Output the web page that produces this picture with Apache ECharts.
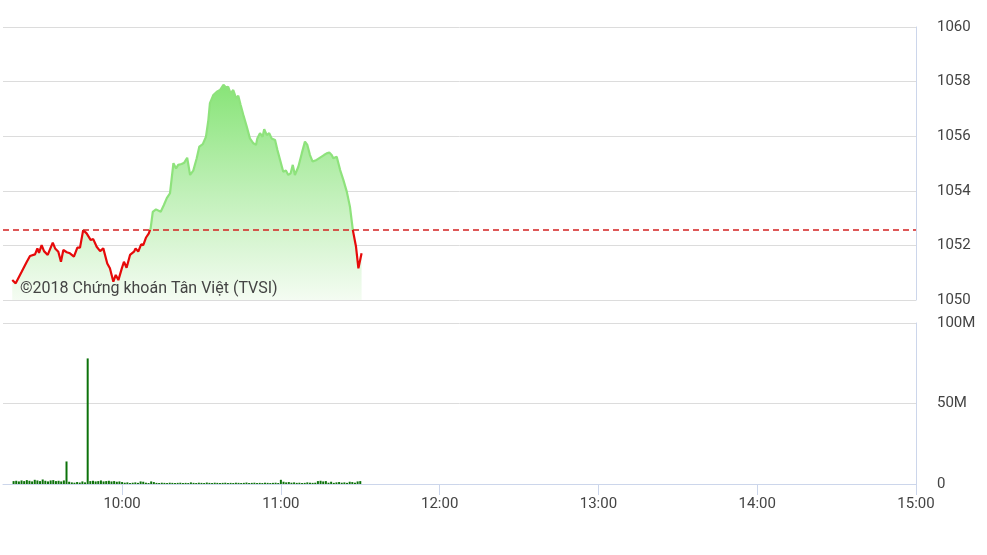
<!DOCTYPE html>
<html>
<head>
<meta charset="utf-8">
<script src="https://cdn.jsdelivr.net/npm/echarts@6/dist/echarts.min.js"></script>
<style>
html,body{margin:0;padding:0;background:#fff;}
#chart{width:987px;height:555px;}
</style>
</head>
<body>
<div id="chart"></div>
<script>
// Reference (previous close) level
const refPrice = 1052.56;

// Price: time in minutes of day (decimal), value
const priceTimes = [558.5,559.8,562.1,564.0,565.2,567.1,568.0,568.6,569.6,570.5,571.9,573.8,574.7,575.9,576.9,577.8,579.1,580.3,581.8,583.1,584.1,585.3,586.6,588.1,589.1,590.4,591.7,592.9,594.4,595.4,596.7,597.6,598.6,599.9,600.7,601.7,603.0,604.5,605.1,606.1,607.2,608.0,609.0,610.1,610.8,611.6,612.8,614.6,615.8,616.9,618.1,619.4,620.4,621.2,622.5,623.5,624.6,625.7,626.9,628.2,629.2,630.5,631.7,632.6,633.2,634.5,635.8,637.0,638.3,639.3,640.1,641.0,642.0,643.1,643.9,644.8,645.8,647.1,648.3,649.6,650.6,651.1,652.1,653.1,653.7,654.7,655.6,656.5,657.8,658.7,659.4,660.9,661.9,662.8,663.7,664.5,665.3,666.6,667.9,669.1,670.0,671.0,672.0,673.5,675.4,676.3,677.3,678.3,679.2,679.8,681.1,682.4,683.6,684.9,686.1,687.2,688.4,689.3,690.5];
const priceValues = [1050.73,1050.61,1051.04,1051.40,1051.61,1051.67,1051.89,1051.73,1052.01,1051.79,1051.65,1052.10,1051.89,1051.77,1051.40,1051.83,1051.75,1051.71,1051.59,1051.92,1051.92,1052.56,1052.44,1052.20,1052.23,1051.95,1051.79,1051.89,1051.34,1051.16,1050.67,1050.92,1050.73,1051.16,1051.40,1051.18,1051.65,1051.77,1051.89,1051.77,1052.04,1052.01,1052.28,1052.44,1052.63,1053.23,1053.32,1053.23,1053.48,1053.73,1053.91,1055.01,1054.82,1054.95,1054.98,1055.03,1055.21,1054.58,1054.74,1055.19,1055.62,1055.71,1055.98,1056.59,1057.21,1057.51,1057.63,1057.69,1057.88,1057.78,1057.81,1057.57,1057.69,1057.39,1057.48,1057.14,1056.78,1056.35,1055.92,1055.74,1055.68,1055.92,1056.11,1055.98,1056.26,1056.04,1056.11,1055.92,1055.86,1055.49,1055.43,1054.70,1054.74,1054.58,1054.64,1054.95,1054.58,1054.88,1055.37,1055.80,1055.68,1055.31,1055.07,1055.13,1055.25,1055.31,1055.37,1055.40,1055.31,1055.19,1055.25,1054.76,1054.40,1053.97,1053.42,1052.56,1051.95,1051.16,1051.71];

// Volume (millions), one bar per minute starting 9:19
const volumeStart = 559;
const volumeValues = [1.8,2.0,1.6,2.2,1.8,2.4,2.0,1.6,2.6,2.2,1.8,2.8,2.0,1.6,2.2,2.4,1.8,2.0,1.6,2.2,
14,
1.4,1.0,0.8,1.2,0.9,1.6,1.0,
78,
1.8,2.0,1.6,1.8,2.2,1.6,1.8,2.0,1.6,1.8,1.4,1.6,1.2,
0.8,1.0,0.6,0.8,1.0,0.7,1.6,1.4,0.8,0.6,1.6,1.2,0.7,0.6,0.8,0.7,0.6,0.8,0.7,0.6,
0.7,0.8,0.6,0.7,0.6,1.0,0.7,0.6,0.8,0.7,0.6,0.9,0.7,0.6,0.8,0.7,0.6,0.7,0.8,0.6,
0.7,0.6,0.8,0.7,0.6,0.7,0.9,0.6,0.7,0.8,0.6,0.7,0.6,0.8,0.7,0.6,0.7,0.8,0.6,
2.6,
1.4,1.0,1.2,0.8,1.0,0.7,0.8,0.6,0.7,1.0,0.8,0.7,0.8,1.8,2.0,1.6,1.8,0.8,1.4,0.7,1.0,1.2,0.8,1.0,0.7,1.4,1.2,0.8,1.6,1.8];

// Axis ticks
const timeTicks = [600,660,720,780,840,900];

const priceData = priceTimes.map((t,i)=>[t,priceValues[i]]);
const volumeData = volumeValues.map((v,i)=>[volumeStart+i,v]);

const fmtTime = v => { const h=Math.floor(v/60), m=Math.round(v%60); return h+':'+(m<10?'0':'')+m; };
const labelColor = '#444';
const gridColor = '#dcdcdc';
const axisColor = '#ccd6eb';
const font = 'Roboto, "Noto Sans", sans-serif';
const upColor = '#8ee27c';
const downColor = '#e60a0a';

const chart = echarts.init(document.getElementById('chart'));
chart.setOption({
  animation:false,
  backgroundColor:'#fff',
  grid:[
    {left:3,right:71,top:27,height:273},
    {left:3,right:71,top:323,height:161}
  ],
  xAxis:[
    {type:'value',gridIndex:0,min:555,max:900,axisLine:{show:false},axisTick:{show:false},axisLabel:{show:false},splitLine:{show:false}},
    {type:'value',gridIndex:1,min:555,max:900,
     axisLine:{show:true,lineStyle:{color:axisColor,width:1}},
     axisTick:{show:true,customValues:timeTicks,length:11,lineStyle:{color:axisColor}},
     axisLabel:{show:true,customValues:timeTicks,formatter:fmtTime,color:labelColor,fontSize:15,fontFamily:font,margin:13},
     splitLine:{show:false}}
  ],
  yAxis:[
    {type:'value',gridIndex:0,position:'right',min:1050,max:1060,interval:2,
     axisLine:{show:true,lineStyle:{color:axisColor}},axisTick:{show:false},
     axisLabel:{color:labelColor,fontSize:15,fontFamily:font,margin:21,formatter:v=>String(v)},
     splitLine:{show:true,lineStyle:{color:gridColor,width:1}}},
    {type:'value',gridIndex:1,position:'right',min:0,max:100,interval:50,
     axisLine:{show:true,lineStyle:{color:axisColor}},axisTick:{show:false},
     axisLabel:{color:labelColor,fontSize:15,fontFamily:font,margin:21,formatter:v=>v===0?'0':v+'M'},
     splitLine:{show:true,lineStyle:{color:gridColor,width:1}}}
  ],
  series:[
    {type:'line',xAxisIndex:0,yAxisIndex:0,data:priceData,showSymbol:false,symbol:'none',
     lineStyle:{width:2.2,color:upColor},
     areaStyle:{opacity:1,color:new echarts.graphic.LinearGradient(0,0,0,1,[
       {offset:0,color:'rgb(136,228,120)'},
       {offset:0.5,color:'rgb(192,240,184)'},
       {offset:1,color:'rgb(244,252,242)'}])},
     markLine:{silent:true,symbol:'none',label:{show:false},
       lineStyle:{color:'#d42020',type:[6,4],width:1.5},
       data:[{yAxis:refPrice}]},
     z:3},
    {type:'bar',xAxisIndex:1,yAxisIndex:1,data:volumeData,barWidth:2,itemStyle:{color:'#0c720a'}}
  ],
  graphic:[
    {type:'text',left:20,top:281,z:100,style:{text:'©2018 Chứng khoán Tân Việt (TVSI)',fill:'#444',font:'16px Roboto, "Noto Sans", sans-serif'}}
  ]
});

// Colour the price line red below the reference level and green above it
const yTop = chart.convertToPixel({yAxisIndex:0},1060);
const yBot = chart.convertToPixel({yAxisIndex:0},1050);
const yRef = chart.convertToPixel({yAxisIndex:0},refPrice);
const f = Math.min(1,Math.max(0,(yRef-yTop)/(yBot-yTop)));
chart.setOption({
  series:[{lineStyle:{color:new echarts.graphic.LinearGradient(0,yTop,0,yBot,[
    {offset:0,color:upColor},{offset:f,color:upColor},
    {offset:f,color:downColor},{offset:1,color:downColor}],true)}}]
});
</script>
</body>
</html>
